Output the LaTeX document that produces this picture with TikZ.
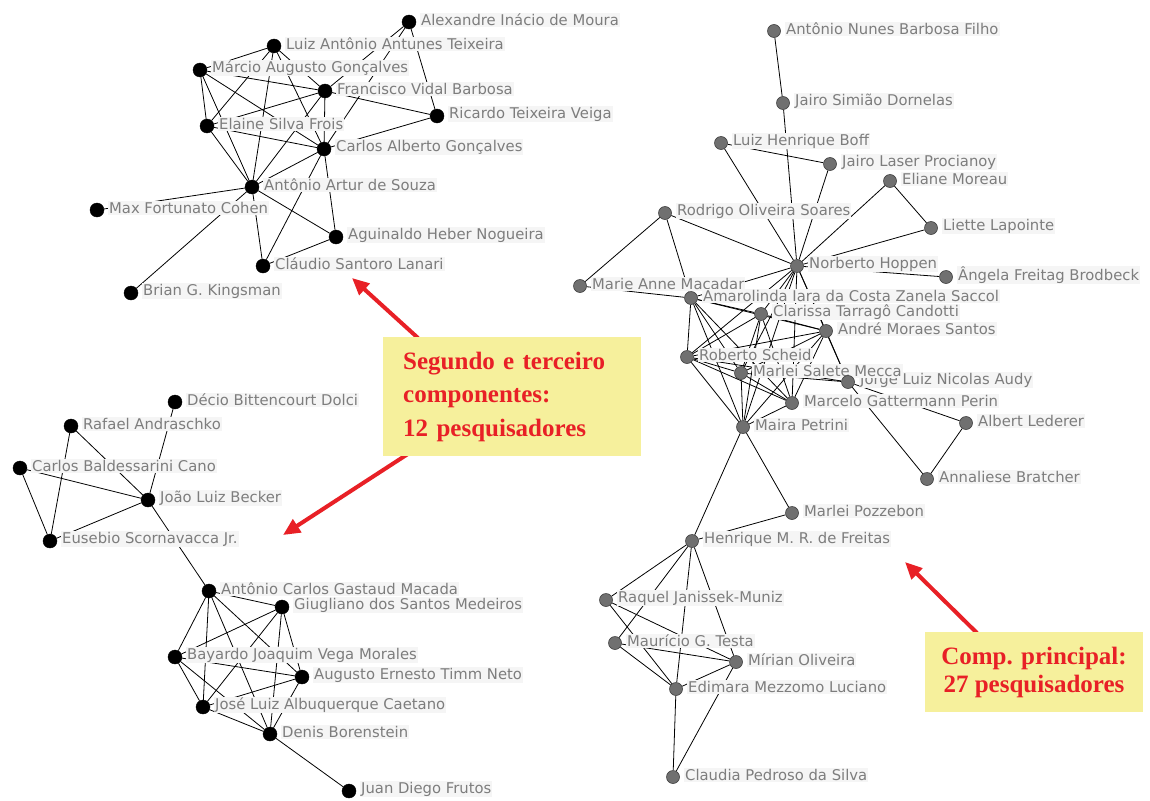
\documentclass[tikz,border=0pt]{standalone}
\usepackage{fontspec}
\setmainfont{Liberation Serif}
\newfontfamily\lblfont{DejaVu Sans}
\usetikzlibrary{arrows.meta,calc}
\pgfdeclarelayer{bg}
\pgfdeclarelayer{fg}
\pgfsetlayers{bg,main,fg}
\definecolor{lblgray}{RGB}{125,125,125}
\definecolor{lblbg}{RGB}{245,245,245}
\definecolor{nodegray}{RGB}{112,112,112}
\definecolor{boxyellow}{RGB}{246,240,156}
\definecolor{alertred}{RGB}{232,32,38}
\tikzset{
  bdot/.style={circle,fill=black,draw=black,inner sep=0pt,minimum size=14pt},
  gdot/.style={circle,fill=nodegray,draw=black!75,line width=0.6pt,inner sep=0pt,minimum size=13pt},
  lbl/.style={anchor=west,text=lblgray,fill=lblbg,inner sep=1pt,font=\lblfont\fontsize{14.8}{16}\selectfont},
  link/.style={draw=black,line width=0.8pt},
  ybox/.style={fill=boxyellow,draw=none,text=alertred,font=\bfseries\fontsize{25}{33.5}\selectfont},
  redarrow/.style={draw=alertred,line width=4pt,-{Triangle[length=17pt,width=15pt]}}
}
\newcommand{\person}[5]{%
  \begin{pgfonlayer}{fg}\node[#1] (#2) at (#3,#4) {};\end{pgfonlayer}%
  \node[lbl] (#2-t) at (#3+11,#4-2) {#5};}
\begin{document}
\begin{tikzpicture}[x=1pt,y=-1pt]
\useasboundingbox (0,0) rectangle (1150,800);
% ---- top-left component
\person{bdot}{alex}{409}{22}{Alexandre Inácio de Moura}
\person{bdot}{luiza}{274}{46}{Luiz Antônio Antunes Teixeira}
\person{bdot}{marcio}{200}{70}{Márcio Augusto Gonçalves}
\person{bdot}{franc}{325}{91}{Francisco Vidal Barbosa}
\person{bdot}{ricardo}{437}{116}{Ricardo Teixeira Veiga}
\person{bdot}{elaine}{207}{126}{Elaine Silva Frois}
\person{bdot}{carlosa}{324}{149}{Carlos Alberto Gonçalves}
\person{bdot}{antart}{252}{187}{Antônio Artur de Souza}
\person{bdot}{max}{97}{210}{Max Fortunato Cohen}
\person{bdot}{agui}{336}{237}{Aguinaldo Heber Nogueira}
\person{bdot}{claudio}{263}{266}{Cláudio Santoro Lanari}
\person{bdot}{brian}{131}{293}{Brian G. Kingsman}
% ---- bottom-left component
\person{bdot}{decio}{175}{402}{Décio Bittencourt Dolci}
\person{bdot}{rafael}{71}{426}{Rafael Andraschko}
\person{bdot}{carlosb}{20}{468}{Carlos Baldessarini Cano}
\person{bdot}{joao}{148}{500}{João Luiz Becker}
\person{bdot}{eusebio}{50}{541}{Eusebio Scornavacca Jr.}
\person{bdot}{acgm}{209}{591}{Antônio Carlos Gastaud Macada}
\person{bdot}{giug}{282}{607}{Giugliano dos Santos Medeiros}
\person{bdot}{bayardo}{175}{657}{Bayardo Joaquim Vega Morales}
\person{bdot}{augusto}{302}{677}{Augusto Ernesto Timm Neto}
\person{bdot}{jose}{203}{707}{José Luiz Albuquerque Caetano}
\person{bdot}{denis}{270}{734}{Denis Borenstein}
\person{bdot}{juan}{349}{791}{Juan Diego Frutos}
% ---- main component
\person{gdot}{anb}{774}{31}{Antônio Nunes Barbosa Filho}
\person{gdot}{jsd}{783}{103}{Jairo Simião Dornelas}
\person{gdot}{lhb}{721}{143}{Luiz Henrique Boff}
\person{gdot}{jlp}{830}{164}{Jairo Laser Procianoy}
\person{gdot}{elm}{890}{181}{Eliane Moreau}
\person{gdot}{ros}{665}{213}{Rodrigo Oliveira Soares}
\person{gdot}{liette}{931}{228}{Liette Lapointe}
\person{gdot}{norb}{797}{266}{Norberto Hoppen}
\person{gdot}{angela}{946}{277}{Ângela Freitag Brodbeck}
\person{gdot}{marie}{580}{286}{Marie Anne Macadar}
\person{gdot}{amaro}{691}{298}{Amarolinda Iara da Costa Zanela Saccol}
\person{gdot}{clar}{761}{314}{Clarissa Tarragô Candotti}
\person{gdot}{andre}{826}{331}{André Moraes Santos}
\person{gdot}{rob}{687}{357}{Roberto Scheid}
\person{gdot}{jorge}{848}{382}{Jorge Luiz Nicolas Audy}
\person{gdot}{mms}{741}{373}{Marlei Salete Mecca}
\person{gdot}{marcelo}{792}{403}{Marcelo Gattermann Perin}
\person{gdot}{albert}{966}{423}{Albert Lederer}
\person{gdot}{maira}{743}{427}{Maira Petrini}
\person{gdot}{anna}{927}{479}{Annaliese Bratcher}
\person{gdot}{mpoz}{792}{513}{Marlei Pozzebon}
\person{gdot}{henr}{692}{541}{Henrique M. R. de Freitas}
\person{gdot}{raquel}{606}{600}{Raquel Janissek-Muniz}
\person{gdot}{mauri}{615}{643}{Maurício G. Testa}
\person{gdot}{mirian}{736}{662}{Mírian Oliveira}
\person{gdot}{edim}{676}{689}{Edimara Mezzomo Luciano}
\person{gdot}{claudia}{673}{777}{Claudia Pedroso da Silva}
% ---- edges
\begin{pgfonlayer}{bg}
\fill[white] (0,0) rectangle (1150,800);
\foreach \a/\b in {alex/ricardo,alex/carlosa,alex/franc,
  luiza/marcio,luiza/elaine,luiza/franc,luiza/antart,luiza/carlosa,
  marcio/franc,marcio/elaine,marcio/carlosa,marcio/antart,
  elaine/franc,elaine/carlosa,elaine/antart,
  franc/carlosa,franc/ricardo,franc/antart,
  carlosa/ricardo,carlosa/antart,carlosa/claudio,carlosa/agui,
  antart/agui,antart/claudio,antart/max,antart/brian,agui/claudio,
  decio/joao,rafael/joao,rafael/eusebio,carlosb/joao,carlosb/eusebio,
  joao/eusebio,joao/acgm,
  acgm/giug,acgm/bayardo,acgm/jose,acgm/augusto,acgm/denis,
  giug/bayardo,giug/jose,giug/augusto,giug/denis,
  bayardo/augusto,bayardo/jose,bayardo/denis,
  jose/augusto,jose/denis,augusto/denis,denis/juan,
  anb/jsd,jsd/norb,lhb/jlp,lhb/norb,jlp/norb,elm/norb,elm/liette,
  liette/norb,angela/norb,ros/norb,ros/marie,ros/amaro,marie/amaro,
  amaro/norb,
  amaro/clar,amaro/andre,amaro/rob,amaro/mms,amaro/marcelo,amaro/maira,
  clar/andre,clar/rob,clar/mms,clar/marcelo,clar/maira,
  andre/rob,andre/mms,andre/marcelo,andre/maira,
  rob/mms,rob/marcelo,rob/maira,mms/marcelo,mms/maira,marcelo/maira,
  norb/clar,norb/andre,norb/rob,norb/mms,norb/marcelo,norb/maira,norb/jorge,
  jorge/mms,jorge/rob,jorge/andre,jorge/albert,jorge/anna,albert/anna,
  maira/henr,maira/mpoz,henr/mpoz,
  henr/raquel,henr/mauri,henr/edim,henr/mirian,
  raquel/mirian,raquel/edim,mauri/mirian,mauri/edim,
  edim/mirian,edim/claudia,mirian/claudia}
  \draw[link] (\a) -- (\b);
\end{pgfonlayer}
% ---- annotations
\coordinate (a1s) at (418,338);
\coordinate (a1e) at (352,278);
\coordinate (a2s) at (414,450);
\coordinate (a2e) at (283,535);
\coordinate (a3s) at (977,633);
\coordinate (a3e) at (905,562);
\draw[redarrow] (a1s) -- (a1e);
\draw[redarrow] (a2s) -- (a2e);
\draw[redarrow] (a3s) -- (a3e);
\node[ybox,anchor=north west,text width=218pt,inner xsep=20pt,inner ysep=0pt,minimum height=119pt,align=left] (box1) at (383,337) {Segundo e terceiro\\componentes:\\12 pesquisadores};
\node[ybox,minimum width=218pt,minimum height=80pt,inner sep=0pt,align=center,font=\bfseries\fontsize{25}{28}\selectfont] (box2) at (1034,672) {Comp. principal:\\27 pesquisadores};
\end{tikzpicture}
\end{document}
